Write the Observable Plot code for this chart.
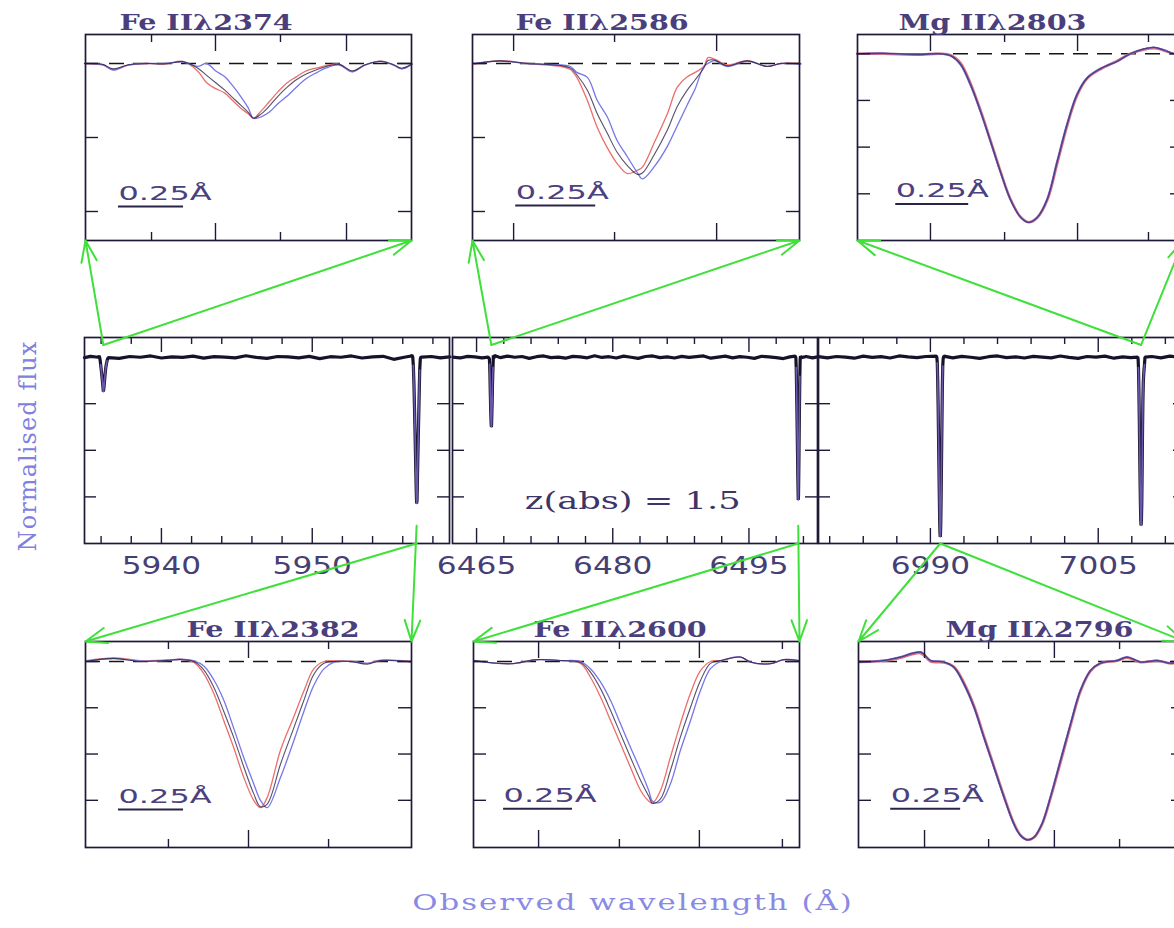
<!DOCTYPE html>
<html><head><meta charset="utf-8">
<script src="https://cdn.jsdelivr.net/npm/d3@7"></script>
<script src="https://cdn.jsdelivr.net/npm/@observablehq/plot@0.6"></script>
<style>
html,body{margin:0;padding:0;background:#fff;overflow:hidden;}
#fig{position:relative;width:1174px;height:928px;overflow:hidden;background:#fff;}
#fig svg{position:absolute;max-width:none;}
.lab{position:absolute;white-space:nowrap;}
</style></head><body><div id="fig"></div>
<script>
// ---------------- DATA ----------------
const lineNames   = ["Fe IIλ2374", "Fe IIλ2382", "Fe IIλ2586", "Fe IIλ2600", "Mg IIλ2796", "Mg IIλ2803"];
const lineCenters = [5936.15, 5956.92, 6466.63, 6500.43, 6990.88, 7008.83]; // observed Å
const zLabel = "z(abs) = 1.5";
const scaleBarLength = 0.25;           // Å
const scaleBarLabel = "0.25Å";

// middle spectrum segments: tick labels
const seg1Major = [5940, 5950];
const seg1Minor = [5936, 5938, 5942, 5944, 5946, 5948, 5952, 5954, 5956, 5958];
const seg2Major = [6465, 6480, 6495];
const seg2Minor = [6468, 6471, 6474, 6477, 6483, 6486, 6489, 6492, 6498, 6501];
const seg3Major = [6990, 7005];
const seg3Minor = [6981, 6984, 6987, 6993, 6996, 6999, 7002, 7008, 7011];
const midYTicks = [0.25, 0.5, 0.75, 1.0];

// middle spectrum continuum (wavelength Å, normalised flux)
const seg1Cont = [[5934.9,0.997],[5935.3,1.004],[5937.2,0.993],[5937.9,1.003],[5938.6,0.999],[5939.3,1.006],[5940.0,0.995],[5940.7,1.001],[5941.4,0.998],[5942.1,1.005],[5942.8,0.994],[5943.5,1.002],[5944.2,1.000],[5944.9,0.996],[5945.6,1.007],[5946.3,0.998],[5947.0,0.993],[5947.7,1.003],[5948.4,1.001],[5949.1,0.996],[5949.8,1.004],[5950.5,0.992],[5951.2,1.002],[5951.9,0.999],[5952.6,1.006],[5953.3,0.995],[5954.0,1.001],[5954.7,1.004],[5955.4,0.988],[5956.1,0.999],[5957.9,1.003],[5958.5,0.996],[5959.1,1.001]];
const seg2Cont = [[6462.4,1.000],[6463.2,0.995],[6464.0,1.004],[6464.8,1.001],[6465.6,0.996],[6467.6,0.997],[6468.4,1.005],[6469.2,0.999],[6470.0,1.003],[6470.8,0.993],[6471.6,1.002],[6472.4,1.006],[6473.2,0.997],[6474.0,1.000],[6474.8,0.994],[6475.6,1.004],[6476.4,1.001],[6477.2,0.996],[6478.0,1.007],[6478.8,0.998],[6479.6,1.002],[6480.4,0.995],[6481.2,1.005],[6482.0,0.999],[6482.8,0.993],[6483.6,1.003],[6484.4,1.006],[6485.2,0.997],[6486.0,1.001],[6486.8,0.995],[6487.6,1.004],[6488.4,0.998],[6489.2,1.002],[6490.0,1.006],[6490.8,0.994],[6491.6,1.000],[6492.4,1.005],[6493.2,0.996],[6494.0,1.002],[6494.8,0.999],[6495.6,0.993],[6496.4,1.004],[6497.2,1.001],[6498.0,0.997],[6498.8,0.992],[6499.5,1.001],[6501.3,1.003],[6502.0,0.996],[6502.55,1.001]];
const seg3Cont = [[6980.0,1.002],[6980.8,0.996],[6981.6,1.003],[6982.4,1.000],[6983.2,0.994],[6984.0,1.005],[6984.8,0.998],[6985.6,1.002],[6986.4,0.995],[6987.2,1.006],[6988.0,1.001],[6988.8,0.997],[6989.6,1.003],[6992.0,0.996],[6992.8,1.004],[6993.6,0.999],[6994.4,0.993],[6995.2,1.002],[6996.0,1.006],[6996.8,0.997],[6997.6,1.001],[6998.4,0.995],[6999.2,1.004],[7000.0,1.000],[7000.8,0.996],[7001.6,1.006],[7002.4,0.998],[7003.2,0.993],[7004.0,1.003],[7004.8,1.000],[7005.6,1.005],[7006.4,0.994],[7007.2,1.001],[7007.9,0.997],[7009.8,1.003],[7010.6,0.996],[7011.4,1.005],[7012.2,0.999],[7012.8,1.002]];

// zoomed line profiles: offset from line centre (Å) and flux for three spectra
const fe2374Dl   = [-0.65,-0.58,-0.54,-0.48,-0.41,-0.34,-0.27,-0.215,-0.18,-0.145,-0.11,-0.08,-0.05,-0.02,0.0,0.03,0.06,0.095,0.13,0.165,0.205,0.245,0.28,0.33,0.38,0.43,0.49,0.54,0.57,0.61];
const fe2374Red  = [1.0,0.995,0.98,0.995,1.0,0.998,1.007,0.975,0.935,0.915,0.9,0.875,0.85,0.83,0.815,0.84,0.87,0.905,0.935,0.955,0.976,0.985,0.993,0.998,0.973,0.995,1.008,0.995,0.983,0.998];
const fe2374Dark = [1.0,0.997,0.982,0.996,1.0,0.999,1.006,0.985,0.96,0.935,0.91,0.885,0.86,0.835,0.815,0.83,0.855,0.89,0.92,0.945,0.965,0.98,0.99,0.997,0.975,0.996,1.007,0.996,0.984,0.999];
const fe2374Blue = [1.0,0.996,0.978,0.995,1.0,1.0,1.005,0.99,1.0,0.975,0.955,0.925,0.89,0.85,0.815,0.82,0.835,0.865,0.89,0.92,0.95,0.97,0.985,0.995,0.972,0.995,1.008,0.994,0.982,0.998];

const fe2586Dl   = [-0.51,-0.43,-0.345,-0.24,-0.21,-0.19,-0.157,-0.126,-0.095,-0.064,-0.032,0.0,0.015,0.051,0.093,0.124,0.155,0.18,0.207,0.22,0.24,0.28,0.343,0.405,0.447,0.51];
const fe2586Red  = [0.998,1.01,1.0,0.99,0.98,0.953,0.875,0.784,0.716,0.662,0.628,0.64,0.65,0.73,0.83,0.92,0.955,0.97,0.99,1.02,1.015,0.995,1.01,0.99,1.0,1.0];
const fe2586Dark = [0.999,1.009,1.0,0.993,0.985,0.962,0.91,0.83,0.765,0.70,0.655,0.625,0.63,0.69,0.775,0.855,0.91,0.945,0.985,1.01,1.012,0.992,1.009,0.99,1.0,0.999];
const fe2586Blue = [1.0,1.008,1.0,0.995,0.99,0.97,0.953,0.875,0.82,0.74,0.685,0.63,0.61,0.65,0.72,0.79,0.86,0.915,0.99,1.0,1.01,0.99,1.008,0.99,1.0,0.998];

const mg2803Dl   = [-0.587,-0.495,-0.381,-0.301,-0.267,-0.233,-0.199,-0.164,-0.130,-0.096,-0.062,-0.027,0.0,0.030,0.064,0.098,0.132,0.166,0.201,0.247,0.304,0.349,0.429,0.463,0.498,0.53];
const mg2803Red  = [1.0,1.0,0.995,1.0,0.992,0.95,0.842,0.695,0.535,0.37,0.222,0.126,0.098,0.122,0.215,0.41,0.612,0.775,0.868,0.918,0.962,1.0,1.03,1.018,1.0,1.0];
const mg2803Dark = [1.0,1.002,0.996,1.0,0.99,0.944,0.836,0.69,0.53,0.367,0.22,0.124,0.097,0.124,0.22,0.42,0.62,0.78,0.87,0.92,0.96,1.0,1.034,1.02,1.0,1.0];
const mg2803Blue = [1.0,1.003,0.997,1.0,0.989,0.94,0.83,0.685,0.525,0.364,0.218,0.123,0.097,0.126,0.225,0.428,0.627,0.785,0.872,0.922,0.958,1.0,1.035,1.021,1.0,1.0];

const fe2382Dl   = [-0.67,-0.564,-0.462,-0.359,-0.308,-0.256,-0.218,-0.179,-0.141,-0.103,-0.064,-0.026,0.0,0.026,0.077,0.128,0.167,0.205,0.244,0.282,0.35,0.41,0.462,0.58];
const fe2382Red  = [1.005,1.02,1.005,1.008,1.012,0.995,0.935,0.826,0.68,0.535,0.373,0.25,0.21,0.265,0.52,0.70,0.84,0.96,1.0,1.003,1.0,0.99,1.007,1.0];
const fe2382Dark = [1.0,1.017,1.0,1.006,1.01,1.0,0.955,0.86,0.73,0.59,0.43,0.286,0.215,0.23,0.445,0.64,0.79,0.93,0.99,1.0,1.0,0.985,1.005,0.998];
const fe2382Blue = [1.002,1.015,1.003,1.005,1.012,1.003,0.975,0.90,0.79,0.64,0.48,0.34,0.25,0.21,0.373,0.57,0.73,0.87,0.96,0.995,1.0,0.99,1.005,1.0];

const fe2600Dl   = [-0.647,-0.514,-0.418,-0.333,-0.261,-0.225,-0.188,-0.152,-0.116,-0.080,-0.043,-0.013,0.0,0.029,0.065,0.101,0.138,0.174,0.210,0.246,0.319,0.355,0.428,0.476,0.53];
const fe2600Red  = [1.005,0.988,1.01,1.005,0.99,0.915,0.807,0.681,0.555,0.429,0.303,0.245,0.234,0.303,0.483,0.663,0.83,0.95,1.0,1.005,1.024,0.997,0.988,1.01,1.005];
const fe2600Dark = [1.005,0.988,1.01,1.005,0.995,0.943,0.852,0.735,0.609,0.483,0.357,0.27,0.234,0.258,0.411,0.591,0.753,0.897,0.99,1.005,1.024,0.997,0.988,1.01,1.005];
const fe2600Blue = [1.005,0.988,1.01,1.005,1.0,0.961,0.888,0.789,0.663,0.537,0.411,0.30,0.245,0.24,0.339,0.519,0.681,0.843,0.961,1.0,1.024,0.997,0.988,1.01,1.005];

const mg2796Dl   = [-0.60,-0.513,-0.454,-0.382,-0.346,-0.299,-0.263,-0.227,-0.191,-0.156,-0.120,-0.084,-0.049,-0.025,0.0,0.023,0.052,0.082,0.118,0.154,0.189,0.225,0.261,0.320,0.356,0.404,0.463,0.511,0.56];
const mg2796Red  = [0.998,1.004,1.02,1.045,1.0,0.995,0.972,0.885,0.76,0.598,0.435,0.272,0.127,0.062,0.037,0.049,0.12,0.26,0.455,0.655,0.838,0.948,0.99,1.004,1.02,0.996,1.004,0.99,1.0];
const mg2796Dark = [0.997,1.005,1.024,1.05,1.005,0.997,0.969,0.879,0.753,0.591,0.429,0.267,0.123,0.060,0.036,0.05,0.123,0.267,0.465,0.663,0.843,0.951,0.991,1.005,1.024,0.997,1.005,0.991,1.0];
const mg2796Blue = [0.996,1.006,1.026,1.052,1.006,0.998,0.966,0.874,0.748,0.586,0.425,0.263,0.121,0.059,0.036,0.051,0.126,0.272,0.472,0.668,0.847,0.953,0.992,1.006,1.026,0.998,1.006,0.992,1.0];

// ---------------- LAYOUT / STYLE ----------------
const FRAME = "#1d1a38", TXT = "#463f74", TITLE = "#4a3f7c", GREEN = "#3fe03a";
const midRow = {top: 337, bottom: 543, yDomain: [0, 1.105]};
const topRow = {top: 34, bottom: 240};
const botRow = {top: 641, bottom: 847};
const coreHalfWidth = 0.36; // Å of each zoom profile shown inside the full spectrum
const segments = [
  {left: 84,  right: 449,  domain: [5934.9, 5959.1],  major: seg1Major, minor: seg1Minor, cont: seg1Cont, lines: [0, 1]},
  {left: 452, right: 817,  domain: [6462.35, 6502.55], major: seg2Major, minor: seg2Minor, cont: seg2Cont, lines: [2, 3]},
  {left: 818, right: 1185, domain: [6980, 7012.8],    major: seg3Major, minor: seg3Minor, cont: seg3Cont, lines: [4, 5]}
];
const profiles = {
  0: {dl: fe2374Dl, red: fe2374Red, dark: fe2374Dark, blue: fe2374Blue},
  1: {dl: fe2382Dl, red: fe2382Red, dark: fe2382Dark, blue: fe2382Blue},
  2: {dl: fe2586Dl, red: fe2586Red, dark: fe2586Dark, blue: fe2586Blue},
  3: {dl: fe2600Dl, red: fe2600Red, dark: fe2600Dark, blue: fe2600Blue},
  4: {dl: mg2796Dl, red: mg2796Red, dark: mg2796Dark, blue: mg2796Blue},
  5: {dl: mg2803Dl, red: mg2803Red, dark: mg2803Dark, blue: mg2803Blue}
};
const zoomPanels = [
  {line: 0, row: topRow, left: 85,  right: 411,  xDomain: [-0.646, 0.608], yDomain: [0.402, 1.098], major: [-0.146, 0.358], minor: [-0.392, 0.104], yTicks: [0.5, 0.75, 1.0], bar: {x0: -0.519, y: 0.517}, titleDx: 34, mg: false},
  {line: 2, row: topRow, left: 472, right: 799,  xDomain: [-0.516, 0.506], yDomain: [0.402, 1.098], major: [-0.3875, 0.247], minor: [-0.072], yTicks: [0.5, 0.75, 1.0], bar: {x0: -0.381, y: 0.52}, titleDx: 43, mg: false},
  {line: 5, row: topRow, left: 857, right: 1183, xDomain: [-0.586, 0.531], yDomain: [0, 1.103], major: [-0.336, 0.168], minor: [-0.082, 0.411], yTicks: [0.25, 0.5, 0.75, 1.0], bar: {x0: -0.455, y: 0.195}, titleDx: 41, mg: true},
  {line: 1, row: botRow, left: 85,  right: 411,  xDomain: [-0.673, 0.581], yDomain: [-0.005, 1.108], major: [-0.046], minor: [-0.354, 0.262], yTicks: [0.25, 0.5, 0.75, 1.0], bar: {x0: -0.546, y: 0.2}, titleDx: 101, mg: false},
  {line: 3, row: botRow, left: 473, right: 799,  xDomain: [-0.649, 0.533], yDomain: [-0.005, 1.108], major: [-0.413, 0.170], minor: [-0.12, 0.471], yTicks: [0.25, 0.5, 0.75, 1.0], bar: {x0: -0.54, y: 0.205}, titleDx: 60, mg: false},
  {line: 4, row: botRow, left: 858, right: 1184, xDomain: [-0.604, 0.561], yDomain: [-0.005, 1.108], major: [-0.368, 0.096], minor: [-0.139, 0.329], yTicks: [0.25, 0.5, 0.75, 1.0], bar: {x0: -0.489, y: 0.205}, titleDx: 87, mg: true}
];
// arrows: from a line in the middle spectrum (at a flux level) to a corner of its zoom panel
const arrowLinks = [
  {line: 0, flux: 1.065, panel: 0, corner: "left"},  {line: 0, flux: 1.065, panel: 0, corner: "right"},
  {line: 2, flux: 1.065, panel: 1, corner: "left"},  {line: 2, flux: 1.065, panel: 1, corner: "right"},
  {line: 5, flux: 1.065, panel: 2, corner: "left"},  {line: 5, flux: 1.065, panel: 2, corner: "right"},
  {line: 1, flux: 0.0,   panel: 3, corner: "left"},  {line: 1, flux: 0.095, panel: 3, corner: "right"},
  {line: 3, flux: 0.0,   panel: 4, corner: "left"},  {line: 3, flux: 0.095, panel: 4, corner: "right"},
  {line: 4, flux: 0.0,   panel: 5, corner: "left"},  {line: 4, flux: 0.0,   panel: 5, corner: "right"}
];

// ---------------- DRAWING ----------------
const fig = document.getElementById("fig");
const PAD = 60;

function makePlot({left, top, width, height, xDomain, yDomain, marks}) {
  const svg = Plot.plot({
    width: width + 2 * PAD, height: height + 2 * PAD,
    marginLeft: PAD, marginRight: PAD, marginTop: PAD, marginBottom: PAD,
    x: {domain: xDomain, axis: null},
    y: {domain: yDomain, axis: null},
    style: {background: "transparent", overflow: "visible"},
    marks
  });
  svg.style.position = "absolute";
  svg.style.left = (left - PAD) + "px";
  svg.style.top = (top - PAD) + "px";
  svg.style.maxWidth = "none";
  svg.style.overflow = "visible";
  fig.appendChild(svg);
  return svg;
}

function stretchText(svg, family, sx) {
  d3.select(svg).selectAll("g").filter(function () { return this.getAttribute("font-family") === family; })
    .selectAll("text").each(function () {
      const t = this.getAttribute("transform") || "";
      this.setAttribute("transform", t + ` scale(${sx},1)`);
    });
}

function tickMarks(xMajor, xMinor, yTicks, innerW, innerH, majLen, minLen, yLen) {
  const st = {stroke: FRAME, strokeWidth: 1.4};
  return [
    Plot.ruleX(xMajor, {x: d => d, insetTop: innerH - majLen, ...st}),
    Plot.ruleX(xMajor, {x: d => d, insetBottom: innerH - majLen, ...st}),
    Plot.ruleX(xMinor, {x: d => d, insetTop: innerH - minLen, ...st}),
    Plot.ruleX(xMinor, {x: d => d, insetBottom: innerH - minLen, ...st}),
    Plot.ruleY(yTicks, {y: d => d, insetRight: innerW - yLen, ...st}),
    Plot.ruleY(yTicks, {y: d => d, insetLeft: innerW - yLen, ...st})
  ];
}

// middle spectra
segments.forEach((seg, si) => {
  const w = seg.right - seg.left, h = midRow.bottom - midRow.top;
  const pts = seg.cont.map(([l, f]) => ({l, f}));
  const linePts = [];
  seg.lines.forEach(li => {
    const p = profiles[li];
    p.dl.forEach((d, i) => {
      if (Math.abs(d) > coreHalfWidth || p.dark[i] > 1.01) return;
      const o = {l: lineCenters[li] + d, f: p.dark[i], li};
      pts.push(o); linePts.push(o);
    });
  });
  pts.sort((a, b) => a.l - b.l);
  const marks = [
    Plot.line(pts, {x: "l", y: "f", stroke: "#17122a", strokeWidth: 3.2, strokeLinejoin: "miter"}),
    Plot.line(linePts.filter(o => o.f < 0.985 || Math.abs(o.l - lineCenters[o.li]) < 0.2), {x: "l", y: "f", z: "li", stroke: "#6a58ac", strokeWidth: 1.7}),
    Plot.frame({stroke: FRAME, strokeWidth: 1.7}),
    ...tickMarks(seg.major, seg.minor, midYTicks, w, h, 15, 7, 12),
    Plot.text(seg.major, {x: d => d, frameAnchor: "bottom", lineAnchor: "top", dy: 13, text: d => String(d),
      fontFamily: "DejaVu Sans", fontSize: 24, fill: TXT})
  ];
  if (si === 1) {
    marks.push(Plot.text([{t: zLabel, l: 6482.2, f: 0.225}], {x: "l", y: "f", text: "t",
      fontFamily: "DejaVu Serif", fontSize: 24, fill: "#3d3566"}));
  }
  const svg = makePlot({left: seg.left, top: midRow.top, width: w, height: h, xDomain: seg.domain, yDomain: midRow.yDomain, marks});
  stretchText(svg, "DejaVu Sans", 1.3);
  stretchText(svg, "DejaVu Serif", 1.47);
});

// zoom panels
zoomPanels.forEach(zp => {
  const p = profiles[zp.line];
  const w = zp.right - zp.left, h = zp.row.bottom - zp.row.top;
  const data = p.dl.map((d, i) => ({d, red: p.red[i], dark: p.dark[i], blue: p.blue[i]}));
  const curve = "catmull-rom";
  const lineMarks = zp.mg ? [
    Plot.line(data, {x: "d", y: "red", stroke: "#d9707e", strokeWidth: 2.6, curve}),
    Plot.line(data, {x: "d", y: "blue", stroke: "#7a70d8", strokeWidth: 1.6, curve}),
    Plot.line(data, {x: "d", y: "dark", stroke: "#4a3e86", strokeWidth: 1.3, curve})
  ] : [
    Plot.line(data, {x: "d", y: "red", stroke: "#ec6e6a", strokeWidth: 1.3, curve}),
    Plot.line(data, {x: "d", y: "blue", stroke: "#7676ea", strokeWidth: 1.3, curve}),
    Plot.line(data, {x: "d", y: "dark", stroke: "#2c2545", strokeWidth: 1.1, strokeOpacity: 0.8, curve})
  ];
  const marks = [
    Plot.ruleY([1], {y: d => d, stroke: "#151515", strokeWidth: 1.5, strokeDasharray: "15,9"}),
    ...lineMarks,
    Plot.frame({stroke: FRAME, strokeWidth: 1.7}),
    ...tickMarks(zp.major, zp.minor, zp.yTicks, w, h, 17, 8, 13),
    Plot.ruleY([zp.bar], {y: "y", x1: "x0", x2: b => b.x0 + scaleBarLength, stroke: "#2a2448", strokeWidth: 2}),
    Plot.text([zp.bar], {x: "x0", y: "y", text: () => scaleBarLabel, textAnchor: "start", lineAnchor: "middle", dy: -13,
      fontFamily: "DejaVu Sans", fontSize: 20, fill: "#4b4080"}),
    Plot.text([lineNames[zp.line]], {frameAnchor: "top-left", dx: zp.titleDx, dy: -11.5, text: d => d, textAnchor: "start",
      lineAnchor: "middle", fontFamily: "DejaVu Serif", fontWeight: "bold", fontSize: 22, fill: TITLE})
  ];
  const svg = makePlot({left: zp.left, top: zp.row.top, width: w, height: h, xDomain: zp.xDomain, yDomain: zp.yDomain, marks});
  stretchText(svg, "DejaVu Sans", 1.6);
  stretchText(svg, "DejaVu Serif", 1.3);
});

// arrows (overlay in page pixel coordinates)
function segIndexOf(li) { return segments.findIndex(s => s.lines.includes(li)); }
const xS = segments.map(s => d3.scaleLinear().domain(s.domain).range([s.left, s.right]));
const yS = d3.scaleLinear().domain(midRow.yDomain).range([midRow.bottom, midRow.top]);
const arrowData = arrowLinks.map(a => {
  const zp = zoomPanels[a.panel];
  const isTop = zp.row === topRow;
  return {
    x1: xS[segIndexOf(a.line)](lineCenters[a.line]),
    y1: yS(a.flux),
    x2: a.corner === "left" ? zp.left : zp.right,
    y2: isTop ? zp.row.bottom : zp.row.top
  };
});
const overlay = Plot.plot({
  width: 1174, height: 928, margin: 0,
  x: {domain: [0, 1174], range: [0, 1174], axis: null},
  y: {domain: [0, 928], range: [0, 928], axis: null},
  style: {background: "transparent"},
  marks: [Plot.arrow(arrowData, {x1: "x1", y1: "y1", x2: "x2", y2: "y2", stroke: GREEN, strokeWidth: 2, headLength: 17, headAngle: 40})]
});
overlay.style.position = "absolute"; overlay.style.left = "0px"; overlay.style.top = "0px";
overlay.style.pointerEvents = "none";
fig.appendChild(overlay);

// axis titles
const yl = document.createElement("div");
yl.className = "lab"; yl.textContent = "Normalised flux";
Object.assign(yl.style, {left: "28px", top: "446px", transform: "translate(-50%,-50%) rotate(-90deg)",
  fontFamily: "DejaVu Serif", fontSize: "24px", lineHeight: "24px", color: "#8080e0", letterSpacing: "1.1px"});
fig.appendChild(yl);
const xl = document.createElement("div");
xl.className = "lab"; xl.textContent = "Observed wavelength (Å)";
Object.assign(xl.style, {left: "633px", top: "902px", transform: "translate(-50%,-50%) scaleX(1.34)",
  fontFamily: "DejaVu Serif", fontSize: "23px", color: "#8a8ae4", letterSpacing: "1.5px"});
fig.appendChild(xl);
</script></body></html>
